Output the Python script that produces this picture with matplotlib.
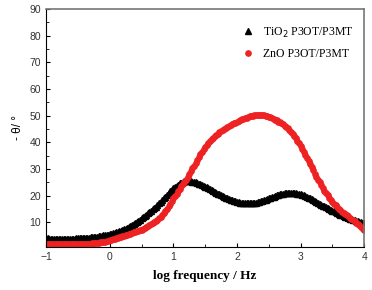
import numpy as np
import matplotlib
matplotlib.use('Agg')
import matplotlib.pyplot as plt

# log frequency grid (0.025 decade steps, -1 .. 4)
log_freq = np.linspace(-1, 4, 201)

# -phase (deg) for TiO2 P3OT/P3MT
tio2 = [4.0, 4.0, 3.9, 3.9, 3.9, 3.9, 3.9, 3.8, 3.8, 3.8,
        3.8, 3.8, 3.8, 3.8, 3.8, 3.8, 3.9, 3.9, 3.9, 4.0,
        4.0, 4.0, 4.0, 4.1, 4.1, 4.2, 4.2, 4.3, 4.4, 4.4,
        4.5, 4.6, 4.7, 4.8, 4.9, 5.0, 5.1, 5.2, 5.3, 5.4,
        5.6, 5.7, 5.9, 6.1, 6.3, 6.5, 6.7, 6.9, 7.2, 7.4,
        7.7, 8.0, 8.3, 8.6, 9.0, 9.4, 9.8, 10.2, 10.6, 11.0,
        11.5, 11.9, 12.4, 12.9, 13.4, 13.9, 14.4, 14.9, 15.4, 15.9,
        16.5, 17.1, 17.8, 18.4, 19.1, 19.7, 20.4, 21.0, 21.6, 22.2,
        22.8, 23.3, 23.8, 24.2, 24.6, 24.9, 25.2, 25.4, 25.5, 25.5,
        25.5, 25.4, 25.3, 25.2, 25.0, 24.8, 24.5, 24.3, 24.0, 23.7,
        23.4, 23.1, 22.8, 22.5, 22.1, 21.8, 21.4, 21.1, 20.8, 20.5,
        20.2, 19.9, 19.6, 19.3, 19.0, 18.7, 18.5, 18.3, 18.1, 17.9,
        17.7, 17.5, 17.4, 17.3, 17.2, 17.1, 17.1, 17.1, 17.1, 17.1,
        17.2, 17.3, 17.4, 17.5, 17.7, 17.9, 18.1, 18.3, 18.5, 18.7,
        19.0, 19.2, 19.4, 19.6, 19.9, 20.1, 20.3, 20.5, 20.6, 20.8,
        20.9, 21.0, 21.0, 21.1, 21.1, 21.1, 21.0, 20.9, 20.8, 20.7,
        20.5, 20.3, 20.1, 19.9, 19.6, 19.3, 19.0, 18.7, 18.4, 18.1,
        17.7, 17.4, 17.0, 16.7, 16.3, 16.0, 15.6, 15.3, 15.0, 14.7,
        14.4, 14.1, 13.8, 13.5, 13.2, 12.9, 12.7, 12.4, 12.2, 11.9,
        11.7, 11.4, 11.2, 11.0, 10.8, 10.6, 10.4, 10.2, 10.0, 9.8,
        9.6]

# -phase (deg) for ZnO P3OT/P3MT
zno = [1.9, 1.9, 1.8, 1.8, 1.8, 1.8, 1.8, 1.8, 1.8, 1.8,
       1.8, 1.8, 1.8, 1.8, 1.8, 1.8, 1.8, 1.8, 1.8, 1.8,
       1.8, 1.8, 1.8, 1.8, 1.9, 1.9, 1.9, 2.0, 2.0, 2.1,
       2.1, 2.2, 2.3, 2.4, 2.5, 2.6, 2.7, 2.8, 3.0, 3.2,
       3.4, 3.5, 3.7, 3.8, 4.0, 4.2, 4.4, 4.6, 4.8, 5.0,
       5.2, 5.4, 5.6, 5.8, 6.0, 6.3, 6.5, 6.7, 6.9, 7.1,
       7.3, 7.6, 7.9, 8.2, 8.5, 8.9, 9.3, 9.7, 10.1, 10.5,
       11.0, 11.6, 12.2, 12.9, 13.6, 14.4, 15.2, 16.1, 17.0, 18.0,
       19.0, 19.9, 20.8, 21.7, 22.6, 23.5, 24.3, 25.1, 26.0, 27.0,
       28.1, 29.2, 30.3, 31.3, 32.4, 33.4, 34.5, 35.5, 36.5, 37.5,
       38.4, 39.1, 39.8, 40.5, 41.1, 41.7, 42.2, 42.7, 43.2, 43.7,
       44.1, 44.5, 44.9, 45.3, 45.7, 46.1, 46.4, 46.8, 47.1, 47.4,
       47.7, 48.0, 48.3, 48.6, 48.8, 49.1, 49.3, 49.5, 49.7, 49.9,
       50.0, 50.1, 50.2, 50.3, 50.3, 50.3, 50.2, 50.1, 50.0, 49.8,
       49.6, 49.4, 49.1, 48.8, 48.5, 48.2, 47.8, 47.5, 47.1, 46.7,
       46.3, 45.8, 45.2, 44.6, 43.9, 43.2, 42.4, 41.5, 40.6, 39.6,
       38.6, 37.5, 36.4, 35.3, 34.2, 33.1, 31.9, 30.7, 29.5, 28.3,
       27.1, 26.0, 25.0, 23.9, 22.9, 21.9, 21.0, 20.1, 19.3, 18.5,
       17.7, 17.0, 16.4, 15.7, 15.1, 14.5, 14.0, 13.5, 13.1, 12.7,
       12.3, 11.8, 11.3, 10.8, 10.4, 9.9, 9.4, 8.9, 8.3, 7.7,
       7.1]

x_ticks = [-1, 0, 1, 2, 3, 4]
y_ticks = [10, 20, 30, 40, 50, 60, 70, 80, 90]

fig = plt.figure(figsize=(3.72, 2.9), dpi=100)
ax = fig.add_axes([0.124, 0.149, 0.855, 0.82])

ax.plot(log_freq, tio2, linestyle='none', marker='^', color='black',
        markersize=3.8, label='TiO$_2$ P3OT/P3MT')
ax.plot(log_freq, zno, linestyle='none', marker='o', color='#ee2222',
        markersize=3.8, label='ZnO P3OT/P3MT')

ax.set_xlim(-1, 4)
ax.set_ylim(0.85, 90)
ax.set_xticks(x_ticks)
ax.set_yticks(y_ticks)
ax.set_xticks(np.arange(-0.5, 4, 1), minor=True)
ax.set_yticks(np.arange(5, 90, 10), minor=True)
ax.tick_params(which='both', direction='in', labelsize=7.5)
ax.tick_params(which='major', length=3)
ax.tick_params(which='minor', length=2)
for lab in ax.get_xticklabels() + ax.get_yticklabels():
    lab.set_family('Liberation Sans')
    lab.set_color('#333333')

for side in ['top', 'right']:
    ax.spines[side].set_color('#777777')
    ax.spines[side].set_linewidth(1.2)

ax.set_xlabel('log frequency / Hz', family='Liberation Serif',
              fontweight='bold', fontsize=9.5, labelpad=6)
ax.set_ylabel('- \u03b8/ \u00b0', family='Liberation Sans', fontsize=8.5)

ax.legend(loc='upper right', frameon=False, handletextpad=0.3, labelspacing=0.7,
          bbox_to_anchor=(1.0, 0.975), prop={'family': 'Liberation Serif', 'size': 8.5})

fig.savefig('out.png', dpi=100)
